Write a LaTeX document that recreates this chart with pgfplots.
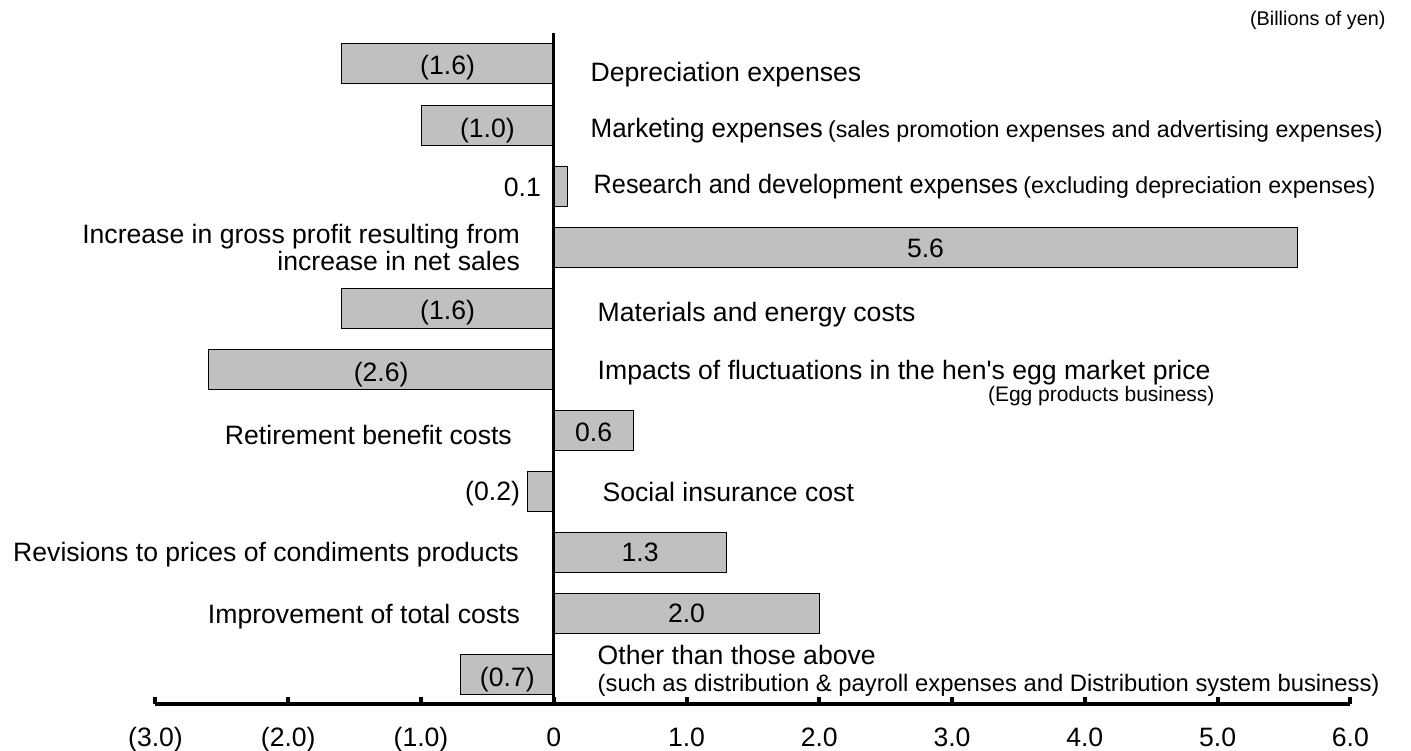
\documentclass[border=0pt]{standalone}
\usepackage{fontspec}
\setmainfont{Liberation Sans}
\usepackage{graphicx}
\usepackage{pgfplots}
\pgfplotsset{compat=1.18}
\definecolor{barfill}{HTML}{C0C0C0}
\newcommand{\mainf}{\fontsize{13.3}{16}\selectfont}
\newcommand{\smallf}{\fontsize{11.6}{14}\selectfont}
\newcommand{\eggf}{\fontsize{10.5}{13}\selectfont}
\newcommand{\suchf}{\fontsize{11.9}{14}\selectfont}
\newcommand{\tinyf}{\fontsize{9.9}{12}\selectfont}
\begin{document}
\begin{tikzpicture}
\path[use as bounding box] (-77.75pt,-23pt) rectangle ++(705.5pt,375pt);
\begin{axis}[
  at={(0,0)}, anchor=south west,
  scale only axis, width=597.4pt, height=335.5pt,
  xmin=-3, xmax=6, ymin=-11.49, ymax=-0.492,
  axis x line*=bottom, axis y line=none,
  xbar, bar width=20pt, bar shift=0pt,
  xtick={-3,-2,-1,0,1,2,3,4,5,6},
  xticklabels={(3.0),(2.0),(1.0),0,1.0,2.0,3.0,4.0,5.0,6.0},
  ytick=\empty,
  tick align=inside, major tick length=3.5pt,
  x axis line style={line width=2pt},
  every tick/.style={line width=2pt, black},
  xticklabel style={font=\mainf, anchor=base, inner sep=0pt, yshift=-21.3pt},
  /pgf/number format/assume math mode=true,
  clip=false,
]
\addplot[fill=barfill, draw=black, line width=0.5pt] coordinates {
  (-1.6,-1) (-1.0,-2) (0.1,-3) (5.6,-4) (-1.6,-5) (-2.6,-6)
  (0.6,-7) (-0.2,-8) (1.3,-9) (2.0,-10) (-0.7,-11)};
\draw[line width=1.7pt] (axis cs:0,-0.492) -- (axis cs:0,-11.49);
\tikzset{lab/.style={inner sep=0pt, font=\mainf}}
% value labels
\node[lab, anchor=base] at (axis cs:-0.8,-1.174) {(1.6)};
\node[lab, anchor=base] at (axis cs:-0.5,-2.207) {(1.0)};
\node[lab, anchor=base east] at (axis cs:-0.094,-3.164) {0.1};
\node[lab, anchor=base] at (axis cs:2.8,-4.164) {5.6};
\node[lab, anchor=base] at (axis cs:-0.8,-5.190) {(1.6)};
\node[lab, anchor=base] at (axis cs:-1.3,-6.207) {(2.6)};
\node[lab, anchor=base] at (axis cs:0.3,-7.190) {0.6};
\node[lab, anchor=base east] at (axis cs:-0.252,-8.157) {(0.2)};
\node[lab, anchor=base] at (axis cs:0.65,-9.157) {1.3};
\node[lab, anchor=base] at (axis cs:1.0,-10.157) {2.0};
\node[lab, anchor=base] at (axis cs:-0.35,-11.207) {(0.7)};
% category labels
\node[lab, anchor=base west] at (axis cs:0.275,-1.287) {Depreciation expenses};
\node[lab, anchor=base west] at (axis cs:0.275,-2.207) {\scalebox{0.975}[1]{Marketing expenses}\hspace{0.2em}{\smallf (sales promotion expenses and advertising expenses)}};
\node[lab, anchor=base west] at (axis cs:0.298,-3.125) {\scalebox{0.95}[1]{Research and development expenses}\hspace{0.2em}{\smallf (excluding depreciation expenses)}};
\node[lab, anchor=base east] at (axis cs:-0.252,-3.944) {Increase in gross profit resulting from};
\node[lab, anchor=base east] at (axis cs:-0.252,-4.387) {increase in net sales};
\node[lab, anchor=base west] at (axis cs:0.328,-5.223) {Materials and energy costs};
\node[lab, anchor=base west] at (axis cs:0.328,-6.174) {Impacts of fluctuations in the hen\textquotesingle s egg market price};
\node[inner sep=0pt, font=\eggf, anchor=base east] at (axis cs:4.98,-6.536) {(Egg products business)};
\node[lab, anchor=base east] at (axis cs:-0.313,-7.239) {Retirement benefit costs};
\node[lab, anchor=base west] at (axis cs:0.365,-8.174) {Social insurance cost};
\node[lab, anchor=base east] at (axis cs:-0.260,-9.157) {Revisions to prices of condiments products};
\node[lab, anchor=base east] at (axis cs:-0.252,-10.174) {Improvement of total costs};
\node[lab, anchor=base west] at (axis cs:0.328,-10.846) {Other than those above};
\node[inner sep=0pt, font=\suchf, anchor=base west] at (axis cs:0.328,-11.290) {(such as distribution \& payroll expenses and Distribution system business)};
\node[inner sep=0pt, font=\tinyf, anchor=base east] at (axis cs:6.268,-0.361) {(Billions of yen)};
\end{axis}
\end{tikzpicture}
\end{document}
